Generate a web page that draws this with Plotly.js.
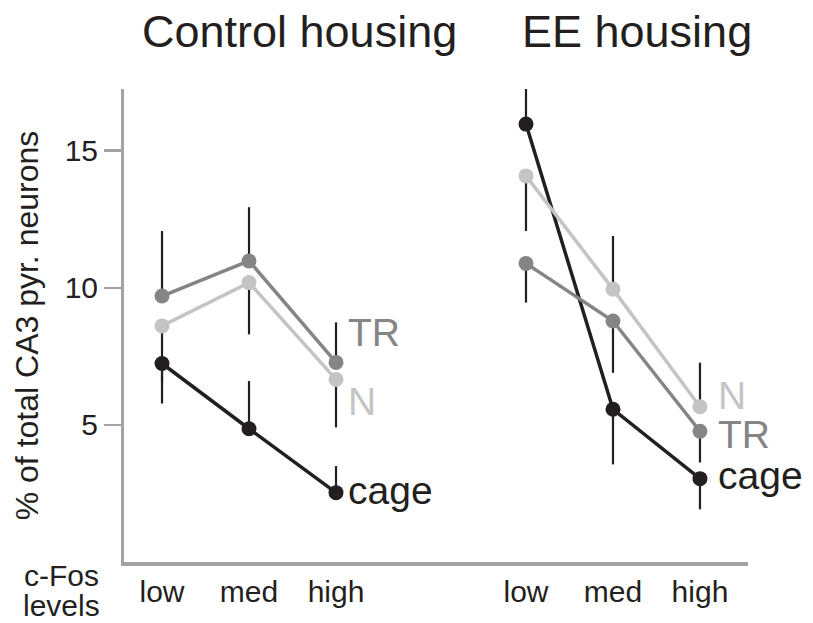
<!DOCTYPE html>
<html>
<head>
<meta charset="utf-8">
<script src="https://cdn.plot.ly/plotly-3.0.1.min.js"></script>
<style>html,body{margin:0;padding:0;background:#fff;}#chart{width:813px;height:623px;}</style>
</head>
<body>
<div id="chart"></div>
<script>
// ---- data ----
const levels = ['low', 'med', 'high'];

const controlCage = [7.24, 4.86, 2.53];
const controlTR   = [9.70, 10.98, 7.28];
const controlN    = [8.61, 10.19, 6.66];

const eeCage = [15.97, 5.57, 3.04];
const eeTR   = [10.89, 8.79, 4.77];
const eeN    = [14.08, 9.95, 5.66];

// one-sided error bars (upper / lower)
const controlCagePlus  = [0, 1.74, 0.97];
const controlCageMinus = [1.46, 0, 0];
const controlTRPlus    = [2.37, 1.96, 1.46];
const controlTRMinus   = [0, 0, 0];
const controlNPlus     = [0, 0, 0];
const controlNMinus    = [2.06, 1.89, 1.75];

const eeCagePlus  = [1.64, 0, 0];
const eeCageMinus = [0, 2.01, 1.12];
const eeTRPlus    = [0, 0, 0];
const eeTRMinus   = [1.43, 1.89, 1.14];
const eeNPlus     = [0, 1.94, 1.61];
const eeNMinus    = [2.01, 0, 0];

const groupTitles = ['Control housing', 'EE housing'];
const seriesNames = ['cage', 'TR', 'N'];
const yTickVals = [5, 10, 15];
const yTitle = '% of total CA3 pyr. neurons';

// ---- styles ----
const FONT = 'Liberation Sans, Arial, Helvetica, sans-serif';
const TXT = '#231f20';
const AXIS = '#a3a3a3';
const colors = {cage: '#231f20', TR: '#858585', N: '#c4c4c4'};

function trace(name, xa, y, plus, minus) {
  return {
    type: 'scatter', mode: 'lines+markers', name: name,
    x: levels, y: y, xaxis: xa, yaxis: 'y',
    line: {color: colors[name], width: 3.5},
    marker: {color: colors[name], size: 15},
    error_y: {type: 'data', symmetric: false, array: plus, arrayminus: minus,
              color: TXT, thickness: 2.2, width: 0},
    showlegend: false, hoverinfo: 'skip'
  };
}

const data = [
  trace('cage', 'x', controlCage, controlCagePlus, controlCageMinus),
  trace('TR', 'x', controlTR, controlTRPlus, controlTRMinus),
  trace('N', 'x', controlN, controlNPlus, controlNMinus),
  trace('cage', 'x2', eeCage, eeCagePlus, eeCageMinus),
  trace('TR', 'x2', eeTR, eeTRPlus, eeTRMinus),
  trace('N', 'x2', eeN, eeNPlus, eeNMinus)
];

function seriesLabel(text, xref, y, xshift, yshift) {
  return {text: text, xref: xref, yref: 'y', x: levels[2], y: y,
          xanchor: 'left', yanchor: 'middle', xshift: xshift, yshift: yshift,
          showarrow: false, font: {family: FONT, size: 39, color: colors[text]}};
}

const annotations = [
  {text: groupTitles[0], xref: 'paper', yref: 'paper', x: 0.282, y: 1.121,
   xanchor: 'center', yanchor: 'middle', showarrow: false,
   font: {family: FONT, size: 45, color: TXT}},
  {text: groupTitles[1], xref: 'paper', yref: 'paper', x: 0.822, y: 1.121,
   xanchor: 'center', yanchor: 'middle', showarrow: false,
   font: {family: FONT, size: 45, color: TXT}},
  {text: 'c-Fos', xref: 'paper', yref: 'paper', x: -0.0994, y: -0.029,
   xanchor: 'center', yanchor: 'middle', showarrow: false,
   font: {family: FONT, size: 30, color: TXT}},
  {text: 'levels', xref: 'paper', yref: 'paper', x: -0.0994, y: -0.092,
   xanchor: 'center', yanchor: 'middle', showarrow: false,
   font: {family: FONT, size: 30, color: TXT}},
  seriesLabel('TR', 'x', controlTR[2], 10, 30),
  seriesLabel('N', 'x', controlN[2], 10, -22),
  seriesLabel('cage', 'x', controlCage[2], 10, 2),
  seriesLabel('N', 'x2', eeN[2], 16, 11),
  seriesLabel('TR', 'x2', eeTR[2], 16, -3),
  seriesLabel('cage', 'x2', eeCage[2], 16, 3)
];

const xCommon = {
  type: 'category', categoryorder: 'array', categoryarray: levels,
  showline: true, linecolor: AXIS, linewidth: 4, ticks: '',
  showgrid: false, zeroline: false, anchor: 'y',
  tickfont: {family: FONT, size: 30, color: TXT}, fixedrange: true
};

const layout = {
  width: 813, height: 623,
  margin: {l: 124, r: 65, t: 89, b: 61, pad: 0},
  paper_bgcolor: '#fff', plot_bgcolor: '#fff',
  font: {family: FONT, color: TXT},
  xaxis: Object.assign({}, xCommon, {domain: [0, 0.492], range: [-0.437, 3.092]}),
  xaxis2: Object.assign({}, xCommon, {domain: [0.492, 1], range: [-1.092, 2.552]}),
  yaxis: {
    range: [0, 17.25], tickvals: yTickVals, ticktext: yTickVals.map(String),
    ticks: 'outside', ticklen: 17, tickwidth: 2.5, tickcolor: AXIS,
    showline: true, linecolor: AXIS, linewidth: 3,
    showgrid: false, zeroline: false, anchor: 'x',
    tickfont: {family: FONT, size: 30, color: TXT},
    title: {text: yTitle, font: {family: FONT, size: 32, color: TXT}, standoff: 17},
    fixedrange: true
  },
  annotations: annotations,
  showlegend: false
};

Plotly.newPlot('chart', data, layout, {displayModeBar: false, staticPlot: true});
</script>
</body>
</html>
